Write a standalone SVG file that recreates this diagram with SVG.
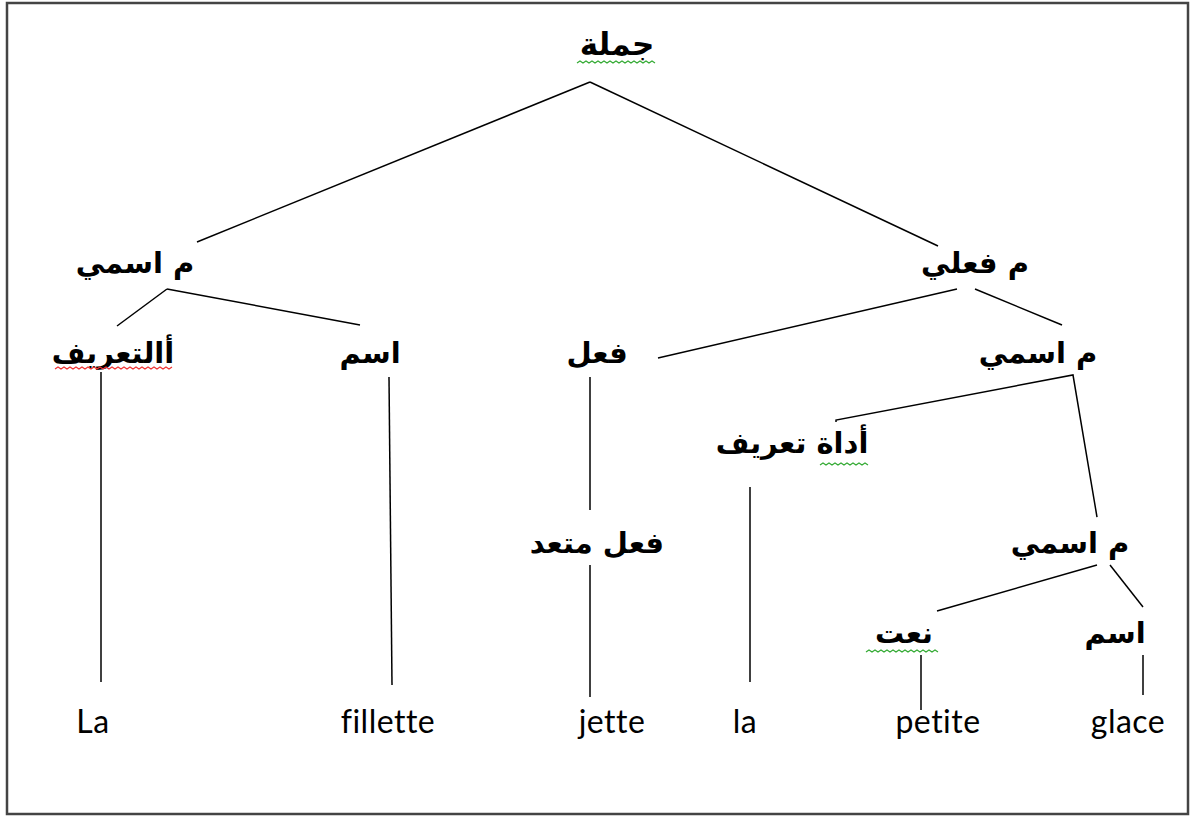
<svg xmlns="http://www.w3.org/2000/svg" width="1190" height="818" viewBox="0 0 1190 818">
<style>
.ar{font-family:"DejaVu Sans",sans-serif;font-size:29px;font-weight:bold;fill:#000;text-anchor:middle}
.la{font-family:Lato,"Liberation Sans",sans-serif;font-size:32px;letter-spacing:0.5px;fill:#000;text-anchor:middle}
.e{stroke:#000;stroke-width:1.5;fill:none}
.wg{stroke:#3a3;stroke-width:1.2;fill:none}
.wr{stroke:#e33;stroke-width:1.2;fill:none}
</style>
<rect x="1" y="1" width="1188" height="816" fill="#fff"/>
<rect x="7" y="3" width="1181" height="811" fill="none" stroke="#444" stroke-width="2.5"/>
<g id="connectors">
<line class="e" x1="590" y1="82" x2="197" y2="242"/>
<line class="e" x1="590" y1="82" x2="938" y2="246"/>
<line class="e" x1="167" y1="289" x2="117" y2="326"/>
<line class="e" x1="167" y1="289" x2="360" y2="325"/>
<line class="e" x1="957" y1="289" x2="658" y2="358"/>
<line class="e" x1="975" y1="289" x2="1062" y2="325"/>
<line class="e" x1="101" y1="372" x2="101" y2="682"/>
<line class="e" x1="389" y1="377" x2="392" y2="685"/>
<line class="e" x1="590" y1="377" x2="590" y2="510"/>
<line class="e" x1="590" y1="565" x2="590" y2="697"/>
<polyline class="e" points="836,422 836,420 1073,375 1097,517"/>
<line class="e" x1="750" y1="487" x2="750" y2="682"/>
<line class="e" x1="1097" y1="565" x2="937" y2="611"/>
<line class="e" x1="1110" y1="565" x2="1143" y2="607"/>
<line class="e" x1="921" y1="655" x2="921" y2="710"/>
<line class="e" x1="1143" y1="655" x2="1143" y2="695"/>
</g>
<g id="n-root"><text class="ar" x="617" y="55" style="font-size:31px">جملة</text>
<polyline class="wg" points="577,63 580,61 583,63 586,61 589,63 592,61 595,63 598,61 601,63 604,61 607,63 610,61 613,63 616,61 619,63 622,61 625,63 628,61 631,63 634,61 637,63 640,61 643,63 646,61 649,63 652,61 655,63"/></g>
<g id="n-np1"><text class="ar" x="135" y="273">م اسمي</text></g>
<g id="n-vp"><text class="ar" x="975" y="273">م فعلي</text></g>
<g id="n-det1"><text class="ar" x="113" y="363">أالتعريف</text>
<polyline class="wr" points="55,369 58,367 61,369 64,367 67,369 70,367 73,369 76,367 79,369 82,367 85,369 88,367 91,369 94,367 97,369 100,367 103,369 106,367 109,369 112,367 115,369 118,367 121,369 124,367 127,369 130,367 133,369 136,367 139,369 142,367 145,369 148,367 151,369 154,367 157,369 160,367 163,369 166,367 169,369 172,367"/></g>
<g id="n-n1"><text class="ar" x="370" y="363">اسم</text></g>
<g id="n-v"><text class="ar" x="597" y="363">فعل</text></g>
<g id="n-np2"><text class="ar" x="1038" y="363">م اسمي</text></g>
<g id="n-det2"><text class="ar" x="792" y="453">أداة تعريف</text>
<polyline class="wg" points="820,465 823,463 826,465 829,463 832,465 835,463 838,465 841,463 844,465 847,463 850,465 853,463 856,465 859,463 862,465 865,463 868,465"/></g>
<g id="n-vt"><text class="ar" x="597" y="553">فعل متعد</text></g>
<g id="n-np3"><text class="ar" x="1070" y="553">م اسمي</text></g>
<g id="n-adj"><text class="ar" x="904" y="643">نعت</text>
<polyline class="wg" points="866,652 869,650 872,652 875,650 878,652 881,650 884,652 887,650 890,652 893,650 896,652 899,650 902,652 905,650 908,652 911,650 914,652 917,650 920,652 923,650 926,652 929,650 932,652 935,650 938,652"/></g>
<g id="n-n2"><text class="ar" x="1115" y="643">اسم</text></g>
<g id="w-la1"><text class="la" x="93" y="733">La</text></g>
<g id="w-fillette"><text class="la" x="388" y="733">fillette</text></g>
<g id="w-jette"><text class="la" x="612" y="733">jette</text></g>
<g id="w-la2"><text class="la" x="745" y="733">la</text></g>
<g id="w-petite"><text class="la" x="938" y="733">petite</text></g>
<g id="w-glace"><text class="la" x="1128" y="733">glace</text></g>
</svg>
